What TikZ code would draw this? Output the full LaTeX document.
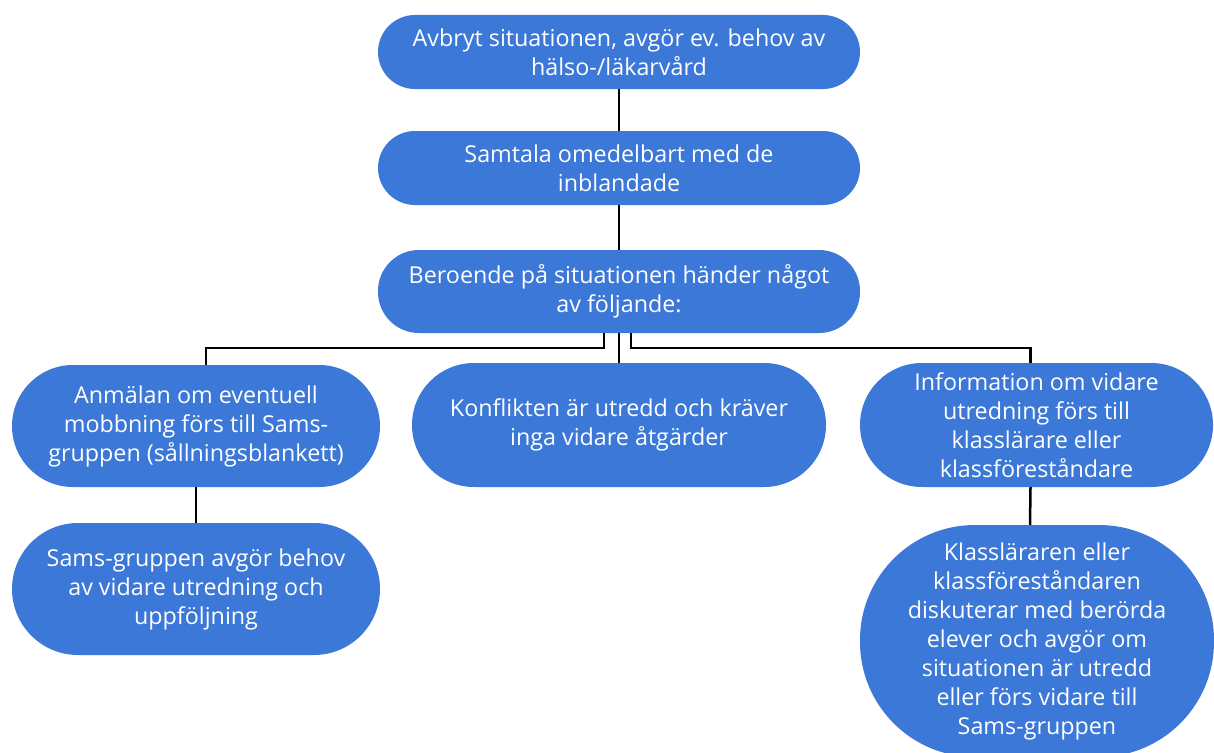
\documentclass[tikz,border=0pt]{standalone}
\usepackage{fontspec}
\setmainfont{Open Sans}
\usetikzlibrary{calc}
\definecolor{boxblue}{HTML}{3C78D8}
\tikzset{
  box/.style={rectangle, fill=boxblue, text=white, align=center, inner sep=0pt,
    font=\fontsize{23.3}{29}\selectfont},
  conn/.style={draw=black, line width=2.5pt},
}
\begin{document}
\begin{tikzpicture}[x=1pt,y=-1pt]
\clip (0,0) rectangle (1214,752);
\fill[white] (0,0) rectangle (1214,752);
\node[box, minimum width=482pt, minimum height=74pt, rounded corners=37pt] (b1) at (619,52)
  {Avbryt situationen, avgör ev. behov av\\hälso-/läkarvård};
\node[box, minimum width=482pt, minimum height=74pt, rounded corners=37pt] (b2) at (619,168)
  {Samtala omedelbart med de\\inblandade};
\node[box, minimum width=482pt, minimum height=83pt, rounded corners=41pt] (b3) at (619,291.5)
  {Beroende på situationen händer något\\av följande:};
\node[box, minimum width=368pt, minimum height=122pt, rounded corners=61pt] (b4) at (196,426)
  {Anmälan om eventuell\\mobbning förs till Sams-\\gruppen (sållningsblankett)};
\node[box, minimum width=414pt, minimum height=124pt, rounded corners=62pt] (b5) at (619,425)
  {Konflikten är utredd och kräver\\inga vidare åtgärder};
\node[box, minimum width=353pt, minimum height=124pt, rounded corners=62pt] (b6) at (1036.5,425)
  {Information om vidare\\utredning förs till\\klasslärare eller\\klassföreståndare};
\node[box, minimum width=368pt, minimum height=132pt, rounded corners=66pt] (b7) at (196,589)
  {Sams-gruppen avgör behov\\av vidare utredning och\\uppföljning};
\node[box, minimum width=354pt, minimum height=232pt, rounded corners=115pt] (b8) at (1037,641)
  {Klassläraren eller\\klassföreståndaren\\diskuterar med berörda\\elever och avgör om\\situationen är utredd\\eller förs vidare till\\Sams-gruppen};
\draw[conn] (b1.south) -- (b2.north);
\draw[conn] (b2.south) -- (b3.north);
\draw[conn] (b3.south) -- (b5.north);
\draw[conn] ([xshift=-15pt]b3.south) |- ($(b3.south)!0.5!(b5.north)+(-15,0)$) -| ([xshift=10pt]b4.north);
\draw[conn] ([xshift=12pt]b3.south) |- ($(b3.south)!0.5!(b5.north)+(12,0)$) -| ([xshift=-6pt]b6.north);
\draw[conn] (b4.south) -- (b7.north);
\draw[conn] ([xshift=-6pt]b6.south) -- ([xshift=-7pt]b8.north);
\end{tikzpicture}
\end{document}
